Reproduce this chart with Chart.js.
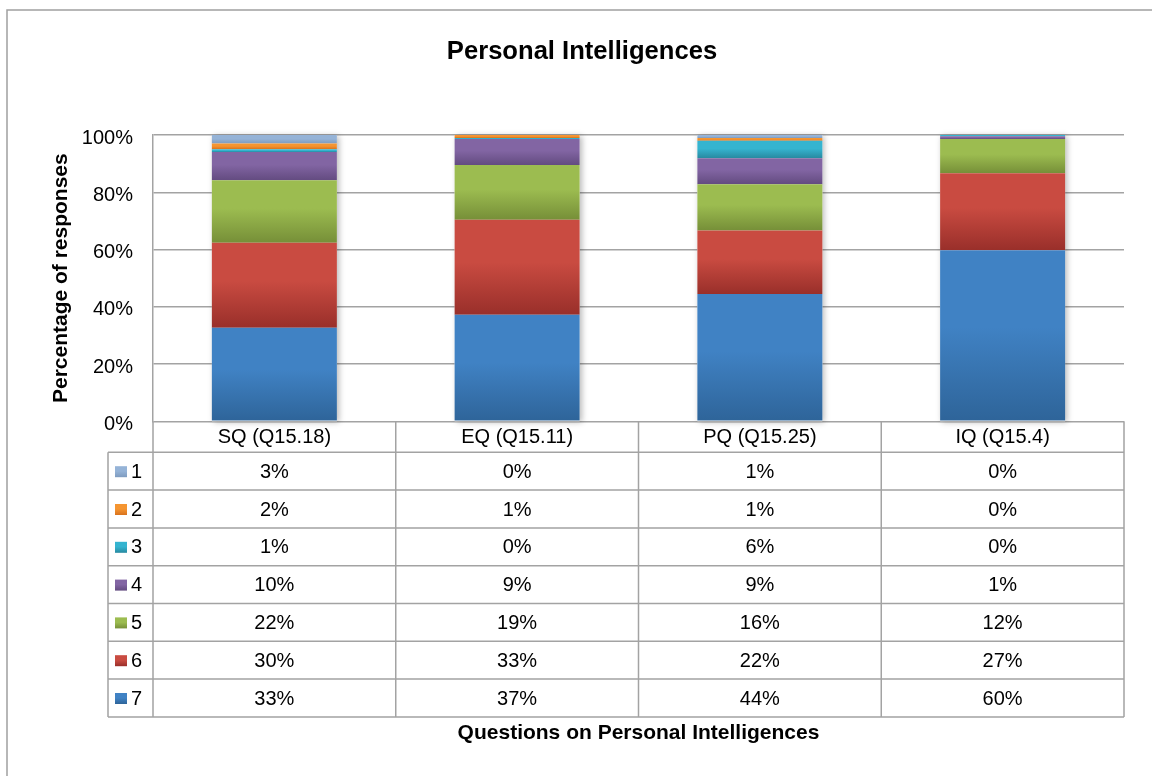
<!DOCTYPE html>
<html><head><meta charset="utf-8">
<script src="https://cdn.jsdelivr.net/npm/chart.js@4.4.0/dist/chart.umd.min.js"></script>
<style>html,body{margin:0;padding:0;background:#fff;overflow:hidden}#wrap{width:1152px;height:776px;position:relative}</style>
</head><body><div id="wrap"><canvas id="c" width="1152" height="776"></canvas></div>
<script>
// ---- data ----
const categories = ['SQ (Q15.18)', 'EQ (Q15.11)', 'PQ (Q15.25)', 'IQ (Q15.4)'];
const seriesNames = ['1', '2', '3', '4', '5', '6', '7'];
const r1 = [3, 0, 1, 0];
const r2 = [2, 1, 1, 0];
const r3 = [1, 0.4, 6, 0.4];
const r4 = [10, 9, 9, 1];
const r5 = [22, 19, 16, 12];
const r6 = [30, 33, 22, 27];
const r7 = [33, 37, 44, 60];
const yTicks = [0, 20, 40, 60, 80, 100];
const chartTitle = 'Personal Intelligences';
const yTitle = 'Percentage of responses';
const xTitle = 'Questions on Personal Intelligences';

// ---- styling ----
const seriesRows = [r1, r2, r3, r4, r5, r6, r7];
const seriesColors = [
  ['#95B3D7', '#7E9BBF'],
  ['#F59531', '#D8721D'],
  ['#35B4D0', '#2789A0'],
  ['#8265A3', '#634B80'],
  ['#9CBC50', '#768F38'],
  ['#C94B41', '#992F2A'],
  ['#4082C4', '#2E6499']
];
const GRID = '#a3a3a3';
const FONT = '"Liberation Sans", Arial, Helvetica, sans-serif';

Chart.defaults.font.family = FONT;
Chart.defaults.color = '#000';

// 100% stacked: normalise each category to its total, stack order 7 (bottom) .. 1 (top)
const totals = categories.map((_, i) => seriesRows.reduce((a, s) => a + s[i], 0));
const stackOrder = [6, 5, 4, 3, 2, 1, 0];
const norm = stackOrder.map(k => seriesRows[k].map((v, i) => v / totals[i] * 100));
const cumStart = norm.map((arr, d) => arr.map((_, i) => {
  let s = 0; for (let j = 0; j < d; j++) s += norm[j][i]; return s;
}));

function makeGrad(ctx, y0, y1, cols) {
  const g = ctx.createLinearGradient(0, y0, 0, y1);
  g.addColorStop(0, cols[0]);
  g.addColorStop(0.45, cols[0]);
  g.addColorStop(1, cols[1]);
  return g;
}

const datasets = stackOrder.map((k, d) => ({
  label: seriesNames[k],
  data: norm[d],
  borderWidth: 0,
  barPercentage: 0.515,
  categoryPercentage: 1,
  backgroundColor: (c) => {
    const chart = c.chart, ys = chart.scales && chart.scales.y;
    if (!ys || !chart.chartArea || c.type !== 'data') return seriesColors[k][0];
    const i = c.dataIndex;
    const st = cumStart[d][i], en = st + norm[d][i];
    const y0 = ys.getPixelForValue(en), y1 = ys.getPixelForValue(st);
    if (!isFinite(y0) || !isFinite(y1) || y1 - y0 < 0.5) return seriesColors[k][0];
    return makeGrad(chart.ctx, y0, y1, seriesColors[k]);
  }
}));

const framePlugin = {
  id: 'frame',
  beforeDraw(chart) {
    const ctx = chart.ctx;
    ctx.save();
    ctx.fillStyle = '#fff';
    ctx.fillRect(0, 0, chart.width, chart.height);
    ctx.strokeStyle = '#a0a0a0';
    ctx.lineWidth = 1.5;
    ctx.strokeRect(7, 10, chart.width + 40, chart.height + 40);
    ctx.restore();
  },
  beforeDatasetsDraw(chart) {
    const ctx = chart.ctx, meta0 = chart.getDatasetMeta(0), ys = chart.scales.y;
    ctx.save();
    ctx.shadowColor = 'rgba(0,0,0,0.28)';
    ctx.shadowBlur = 6;
    ctx.shadowOffsetX = 2;
    ctx.shadowOffsetY = 1;
    ctx.fillStyle = '#fff';
    meta0.data.forEach(el => {
      const top = ys.getPixelForValue(100), base = ys.getPixelForValue(0);
      ctx.fillRect(el.x - el.width / 2, top, el.width, base - top);
    });
    ctx.restore();
  }
};

const tablePlugin = {
  id: 'dataTable',
  afterDraw(chart) {
    const ctx = chart.ctx, ca = chart.chartArea, xs = chart.scales.x;
    const n = categories.length;
    const colW = (ca.right - ca.left) / n;
    const headerB = ca.bottom + 31;
    const rowH = 37.8;
    const tableB = headerB + rowH * seriesRows.length;
    const legL = ca.left - 45;
    ctx.save();
    ctx.strokeStyle = GRID;
    ctx.lineWidth = 1.5;
    ctx.beginPath();
    for (let r = 0; r <= seriesRows.length; r++) {
      const y = headerB + rowH * r;
      ctx.moveTo(legL, y); ctx.lineTo(ca.right, y);
    }
    ctx.moveTo(legL, headerB); ctx.lineTo(legL, tableB);
    for (let i = 0; i <= n; i++) {
      const x = ca.left + colW * i;
      ctx.moveTo(x, ca.bottom); ctx.lineTo(x, tableB);
    }
    ctx.stroke();

    ctx.fillStyle = '#000';
    ctx.font = '20px ' + FONT;
    ctx.textBaseline = 'middle';
    ctx.textAlign = 'center';
    categories.forEach((c, i) => {
      ctx.fillText(c, xs.getPixelForValue(i), ca.bottom + 16.5);
    });
    seriesRows.forEach((row, r) => {
      const yc = headerB + rowH * r + rowH / 2 + 1;
      ctx.textAlign = 'center';
      ctx.fillStyle = '#000';
      row.forEach((v, i) => ctx.fillText(Math.round(v) + '%', xs.getPixelForValue(i), yc));
      const kx = legL + 7, ky = yc - 6;
      ctx.fillStyle = makeGrad(ctx, ky, ky + 11, seriesColors[r]);
      ctx.fillRect(kx, ky, 12, 11);
      ctx.fillStyle = '#000';
      ctx.textAlign = 'left';
      ctx.fillText(seriesNames[r], legL + 23, yc);
    });
    ctx.restore();
  }
};

new Chart(document.getElementById('c'), {
  type: 'bar',
  data: { labels: categories, datasets },
  plugins: [framePlugin, tablePlugin],
  options: {
    responsive: false,
    devicePixelRatio: 1,
    animation: false,
    layout: { padding: { left: 40, right: 28, top: 0, bottom: 0 } },
    plugins: {
      legend: { display: false },
      tooltip: { enabled: false },
      title: {
        display: true, text: chartTitle, color: '#000',
        font: { size: 25.6, weight: 'bold', family: FONT, lineHeight: 1.2 },
        padding: { top: 37, bottom: 67.3 }
      }
    },
    scales: {
      x: {
        stacked: true,
        grid: { display: false },
        border: { display: false },
        ticks: { display: false },
        title: {
          display: true, text: xTitle, color: '#000',
          font: { size: 21, weight: 'bold', family: FONT },
          padding: { top: 291, bottom: 30.5 }
        }
      },
      y: {
        stacked: true,
        min: 0, max: 100,
        afterBuildTicks: s => { s.ticks = yTicks.map(v => ({ value: v })); },
        afterFit: s => { s.width = 113; },
        grid: { color: GRID, lineWidth: 1.5, drawTicks: false },
        border: { display: true, color: GRID, width: 1.5 },
        ticks: {
          padding: 20, color: '#000', labelOffset: 3,
          font: { size: 20, family: FONT },
          callback: v => v + '%'
        },
        title: {
          display: true, text: yTitle, color: '#000',
          font: { size: 21, weight: 'bold', family: FONT },
          padding: { top: 8.4, bottom: 0 }
        }
      }
    }
  }
});
</script>
</body></html>
